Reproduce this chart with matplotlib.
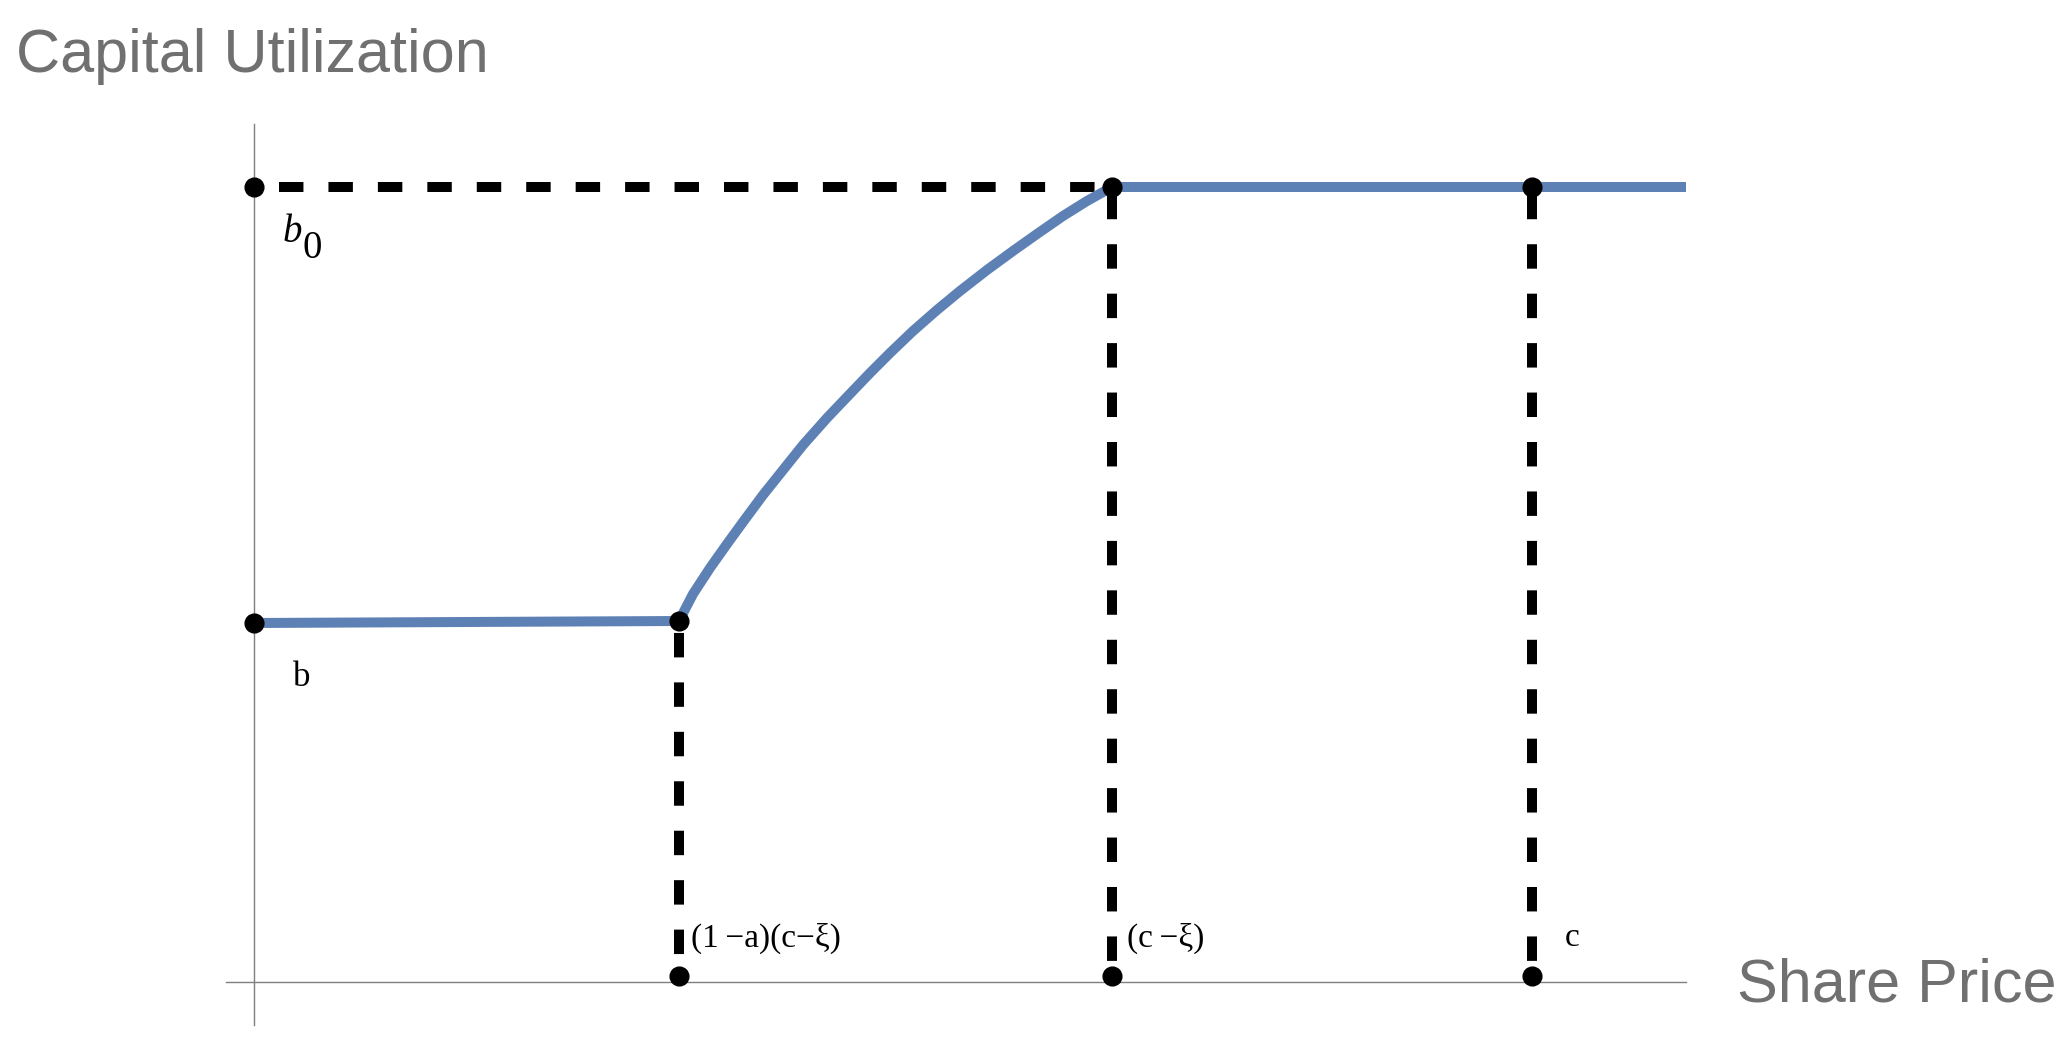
import matplotlib
matplotlib.use("Agg")
import matplotlib.pyplot as plt

# data (x = share price, y = capital utilization), arbitrary units
x_kink = 4.25        # (1-a)(c-xi)
x_cxi = 8.58         # (c-xi)
x_c = 12.78          # c
x_end = 14.32        # where the curve stops on the right
b_level = 3.59
b0_level = 7.95

flat_x = [0.0, x_kink]
flat_y = [b_level, 3.61]
curve_x = [4.25, 4.39, 4.56, 4.73, 4.89, 5.09, 5.29, 5.49, 5.73, 5.93, 6.16,
           6.36, 6.59, 6.83, 7.06, 7.33, 7.59, 7.83, 8.09, 8.33, 8.58]
curve_y = [3.61, 3.88, 4.14, 4.38, 4.60, 4.87, 5.12, 5.37, 5.64, 5.85, 6.09,
           6.29, 6.51, 6.72, 6.91, 7.12, 7.31, 7.48, 7.66, 7.81, 7.95]
top_x = [x_cxi, x_end]
top_y = [b0_level, b0_level]

dot_x = [0.0, 0.0, x_kink, x_cxi, x_c, x_kink, x_cxi, x_c]
dot_y = [b0_level, b_level, 3.61, b0_level, b0_level, 0.06, 0.06, 0.06]

tick_labels = ["(1\u2009\u2212a)(c\u2212\u03be)", "(c\u2009\u2212\u03be)", "c"]
tick_x = [x_kink, x_cxi, x_c]

plt.rcParams['lines.scale_dashes'] = False

fig = plt.figure(figsize=(20.68, 10.42), dpi=100)
ax = fig.add_axes([0, 0, 1, 1])
ax.set_xlim(-2.54, 18.14)
ax.set_ylim(-0.60, 9.82)
ax.axis('off')

# hand drawn axes
ax.plot([0, 0], [-0.43, 8.58], color='#7f7f7f', lw=1.0, zorder=1)
ax.plot([-0.28, x_end], [0, 0], color='#7f7f7f', lw=1.0, zorder=1)

# dashed guides
dash = dict(color='black', lw=7.2, solid_capstyle='butt', dash_capstyle='butt', zorder=2)
ax.plot([0, x_cxi], [b0_level, b0_level], linestyle=(17.6, (17.6, 18.0)), **dash)
ax.plot([x_kink, x_kink], [3.61, 0.06], linestyle=(27.0, (17.6, 18.0)), **dash)
ax.plot([x_cxi, x_cxi], [b0_level, 0.06], linestyle=(30.0, (17.6, 18.0)), **dash)
ax.plot([x_c, x_c], [b0_level, 0.06], linestyle=(30.0, (17.6, 18.0)), **dash)

# utilization curve
blue = '#5e81b5'
ax.plot(flat_x, flat_y, color=blue, lw=7.2, solid_capstyle='butt', zorder=3)
ax.plot(curve_x, curve_y, color=blue, lw=7.2, solid_joinstyle='round', zorder=3)
ax.plot(top_x, top_y, color=blue, lw=7.2, solid_capstyle='butt', zorder=3)

ax.plot(dot_x, dot_y, 'o', color='black', markersize=13.5, zorder=4)

# labels
serif = ['Liberation Serif', 'DejaVu Serif']
ax.text(0.29, 7.49, "b", family=serif, style='italic', fontsize=28, va='center', ha='left')
ax.text(0.48, 7.34, "0", family=serif, fontsize=28, va='center', ha='left')
ax.text(0.48, 3.05, "b", family=serif, fontsize=25, va='center', ha='center')
for tx, lab, dx in zip(tick_x, tick_labels, [0.12, 0.15, 0.33]):
    ax.text(tx + dx, 0.44, lab, family=serif, fontsize=24, va='center', ha='left')

sans = ['Liberation Sans', 'DejaVu Sans']
ax.text(-2.38, 9.10, "Capital Utilization", family=sans, fontsize=44, color='#707070',
        va='baseline', ha='left')
ax.text(14.83, -0.20, "Share Price", family=sans, fontsize=44, color='#707070',
        va='baseline', ha='left')

plt.savefig('out.png', dpi=100)
